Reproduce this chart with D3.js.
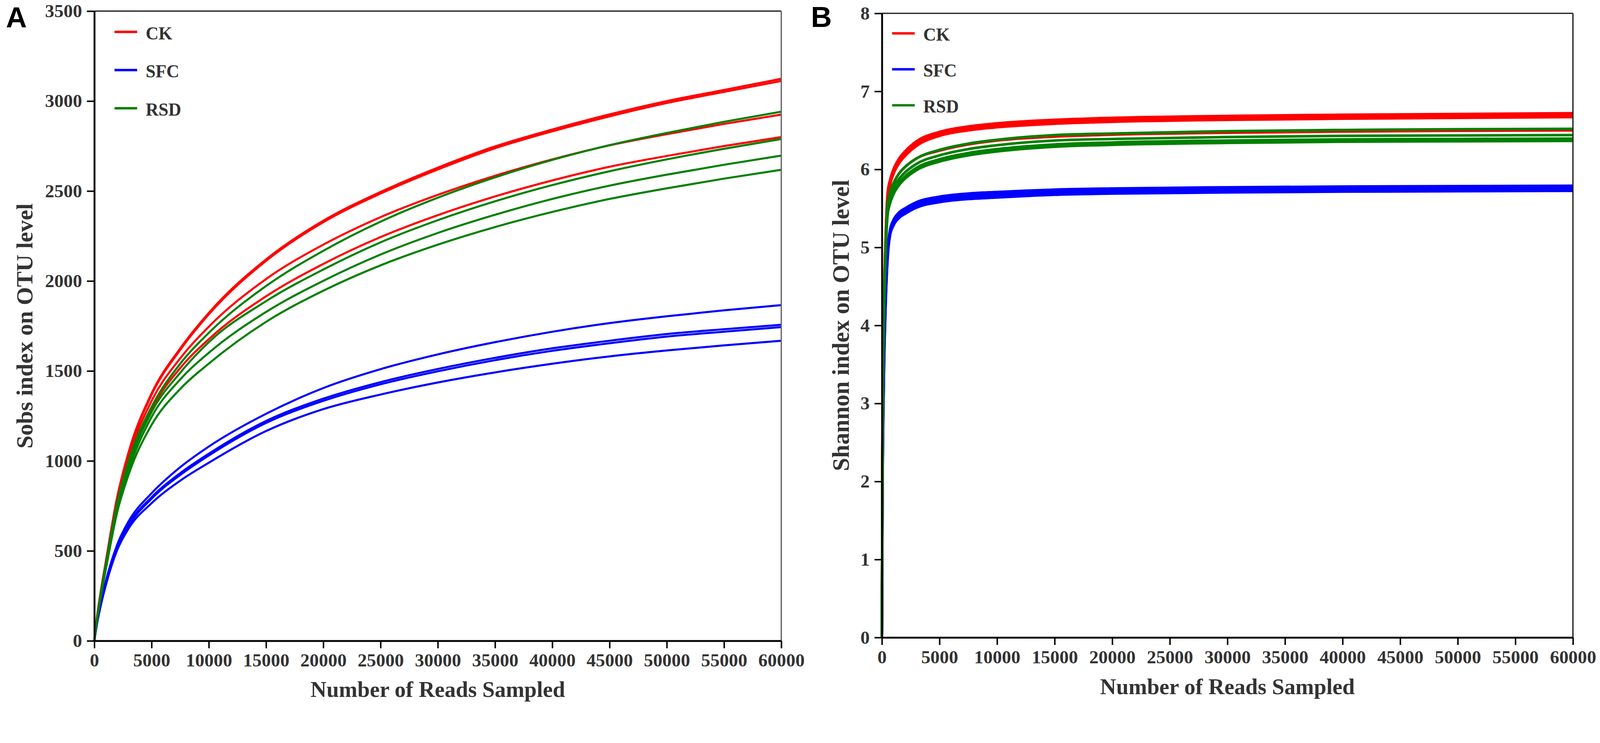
<!DOCTYPE html>
<html>
<head>
<meta charset="utf-8">
<script src="https://cdn.jsdelivr.net/npm/d3@7/dist/d3.min.js"></script>
<style>
  html, body { margin: 0; padding: 0; background: #fff; width: 100%; height: 100%; overflow: hidden; }
  svg { display: block; width: 100vw; height: 100vh; }
</style>
</head>
<body>
<script>
// ---------------- DATA ----------------
const groups = ["CK", "SFC", "RSD"];
const xTicks = [0, 5000, 10000, 15000, 20000, 25000, 30000, 35000, 40000, 45000, 50000, 55000, 60000];
const yTicksA = [0, 500, 1000, 1500, 2000, 2500, 3000, 3500];
const yTicksB = [0, 1, 2, 3, 4, 5, 6, 7, 8];

// Panel A: Sobs rarefaction
const readsA = [0, 250, 500, 1000, 2000, 3000, 5000, 7500, 10000, 15000, 20000, 25000, 30000, 35000, 40000, 45000, 50000, 55000, 60000];
const CK_A1  = [0, 140, 250, 440, 800, 1050, 1375, 1625, 1823, 2120, 2335, 2495, 2630, 2748, 2842, 2926, 3000, 3062, 3124];
const CK_A2  = [0, 138, 247, 436, 794, 1043, 1368, 1617, 1815, 2112, 2327, 2486, 2620, 2738, 2832, 2915, 2989, 3051, 3112];
const CK_A3  = [0, 135, 245, 430, 775, 1020, 1333, 1570, 1746, 2011, 2202, 2355, 2479, 2585, 2676, 2754, 2816, 2873, 2925];
const CK_A4  = [0, 130, 235, 420, 760, 990, 1289, 1516, 1677, 1915, 2095, 2244, 2366, 2470, 2559, 2635, 2695, 2750, 2800];
const SFC_A1 = [0, 110, 190, 330, 535, 665, 820, 965, 1080, 1262, 1405, 1510, 1592, 1660, 1718, 1766, 1804, 1837, 1866];
const SFC_A2 = [0, 106, 185, 322, 522, 648, 798, 932, 1040, 1222, 1346, 1438, 1511, 1573, 1626, 1668, 1705, 1732, 1757];
const SFC_A3 = [0, 104, 183, 318, 516, 640, 790, 922, 1030, 1211, 1334, 1426, 1498, 1560, 1612, 1654, 1691, 1718, 1744];
const SFC_A4 = [0, 100, 178, 308, 505, 625, 765, 890, 990, 1166, 1288, 1369, 1436, 1492, 1540, 1581, 1614, 1642, 1668];
const RSD_A1 = [0, 130, 240, 425, 765, 1000, 1300, 1540, 1712, 1972, 2168, 2330, 2463, 2576, 2673, 2755, 2823, 2885, 2941];
const RSD_A2 = [0, 128, 232, 415, 750, 975, 1272, 1490, 1660, 1888, 2064, 2215, 2338, 2443, 2533, 2610, 2676, 2735, 2789];
const RSD_A3 = [0, 125, 228, 405, 735, 950, 1244, 1453, 1601, 1828, 2001, 2147, 2267, 2368, 2456, 2530, 2591, 2646, 2697];
const RSD_A4 = [0, 120, 220, 395, 715, 925, 1200, 1400, 1541, 1773, 1946, 2087, 2202, 2300, 2384, 2456, 2515, 2569, 2618];

// Panel B: Shannon rarefaction
const readsB = [0, 50, 150, 300, 500, 700, 1000, 1500, 2000, 3000, 5000, 7500, 10000, 15000, 20000, 30000, 40000, 50000, 60000];
const CK_B1  = [0, 2.5, 4.0, 5.0, 5.70, 5.86, 6.00, 6.14, 6.23, 6.36, 6.48, 6.55, 6.59, 6.635, 6.66, 6.685, 6.70, 6.71, 6.72];
const CK_B2  = [0, 2.5, 4.0, 5.0, 5.67, 5.83, 5.97, 6.11, 6.20, 6.33, 6.455, 6.525, 6.565, 6.61, 6.635, 6.66, 6.675, 6.685, 6.695];
const CK_B3  = [0, 2.4, 3.9, 4.9, 5.64, 5.80, 5.94, 6.08, 6.17, 6.30, 6.43, 6.50, 6.54, 6.585, 6.61, 6.635, 6.65, 6.66, 6.67];
const CK_B4  = [0, 2.4, 3.9, 4.9, 5.55, 5.70, 5.82, 5.95, 6.03, 6.14, 6.24, 6.32, 6.37, 6.42, 6.445, 6.47, 6.485, 6.495, 6.50];
const SFC_B1 = [0, 1.9, 3.3, 4.3, 4.95, 5.22, 5.35, 5.45, 5.50, 5.58, 5.65, 5.69, 5.71, 5.74, 5.755, 5.77, 5.78, 5.785, 5.79];
const SFC_B2 = [0, 1.85, 3.25, 4.25, 4.92, 5.20, 5.33, 5.43, 5.48, 5.56, 5.63, 5.67, 5.69, 5.72, 5.735, 5.75, 5.76, 5.765, 5.77];
const SFC_B3 = [0, 1.8, 3.2, 4.2, 4.90, 5.18, 5.31, 5.41, 5.46, 5.54, 5.61, 5.65, 5.67, 5.70, 5.715, 5.73, 5.74, 5.745, 5.75];
const SFC_B4 = [0, 1.75, 3.15, 4.15, 4.87, 5.15, 5.28, 5.38, 5.43, 5.51, 5.58, 5.62, 5.64, 5.675, 5.69, 5.705, 5.715, 5.72, 5.725];
const RSD_B1 = [0, 2.4, 3.9, 4.9, 5.55, 5.70, 5.82, 5.95, 6.03, 6.14, 6.25, 6.33, 6.38, 6.44, 6.46, 6.49, 6.505, 6.515, 6.52];
const RSD_B2 = [0, 2.35, 3.85, 4.85, 5.50, 5.64, 5.76, 5.88, 5.96, 6.07, 6.18, 6.26, 6.31, 6.37, 6.39, 6.415, 6.43, 6.435, 6.44];
const RSD_B3 = [0, 2.3, 3.8, 4.8, 5.45, 5.59, 5.71, 5.83, 5.91, 6.02, 6.13, 6.21, 6.26, 6.32, 6.345, 6.37, 6.385, 6.39, 6.395];
const RSD_B4 = [0, 2.3, 3.8, 4.8, 5.42, 5.56, 5.68, 5.80, 5.88, 5.99, 6.10, 6.18, 6.23, 6.29, 6.315, 6.34, 6.355, 6.36, 6.365];

// ---------------- STYLE / LAYOUT ----------------
const W = 4317, H = 1902;
const colors = { CK: "#ff0000", SFC: "#0000ff", RSD: "#008000" };
const serif = "'Liberation Serif', 'Times New Roman', Times, serif";
const sans = "'Liberation Sans', Arial, Helvetica, sans-serif";
const textColor = "#333333";

const svg = d3.select("body").append("svg")
  .attr("viewBox", `0 0 ${W} ${H}`)
  .attr("preserveAspectRatio", "xMinYMin meet");
svg.append("rect").attr("width", W).attr("height", H).attr("fill", "#fff");

function drawPanel(p) {
  const x = d3.scaleLinear().domain([0, 60000]).range([p.x0, p.x1]);
  const y = d3.scaleLinear().domain(p.yDomain).range([p.y1, p.y0]);
  const g = svg.append("g");

  // curves
  const line = d3.line()
    .x((d) => x(d[0]))
    .y((d) => y(d[1]))
    .curve(d3.curveMonotoneX);
  p.series.forEach((s) => {
    g.append("path")
      .datum(p.reads.map((r, i) => [r, s.values[i]]))
      .attr("fill", "none")
      .attr("stroke", colors[s.group])
      .attr("stroke-width", p.lineWidth)
      .attr("stroke-linejoin", "round")
      .attr("d", line);
  });

  // frame: top and right
  g.append("line").attr("x1", p.x0).attr("x2", p.x1).attr("y1", p.y0).attr("y2", p.y0)
    .attr("stroke", "#222").attr("stroke-width", 3.5);
  g.append("line").attr("x1", p.x1).attr("x2", p.x1).attr("y1", p.y0).attr("y2", p.y1)
    .attr("stroke", p.rightColor).attr("stroke-width", 3.5);

  // axes
  const xAxis = d3.axisBottom(x).tickValues(xTicks).tickSize(20).tickPadding(14).tickSizeOuter(0)
    .tickFormat(d3.format("d"));
  const yAxis = d3.axisLeft(y).tickValues(p.yTicks).tickSize(20).tickPadding(13).tickSizeOuter(0)
    .tickFormat(d3.format("d"));

  const gx = g.append("g").attr("transform", `translate(0,${p.y1})`).call(xAxis);
  const gy = g.append("g").attr("transform", `translate(${p.x0},0)`).call(yAxis);
  [gx, gy].forEach((ax) => {
    ax.select(".domain").attr("stroke", "#000").attr("stroke-width", 5);
    ax.selectAll(".tick line").attr("stroke", "#000").attr("stroke-width", 4);
    ax.selectAll(".tick text")
      .attr("fill", textColor)
      .style("font-family", serif)
      .style("font-weight", "bold")
      .style("font-size", "50px");
  });

  // axis titles
  g.append("text")
    .attr("x", (p.x0 + p.x1) / 2).attr("y", p.xTitleY)
    .attr("text-anchor", "middle")
    .attr("fill", textColor)
    .style("font-family", serif).style("font-weight", "bold").style("font-size", "60px")
    .text("Number of Reads Sampled");
  g.append("text")
    .attr("transform", `translate(${p.yTitleX},${(p.y0 + p.y1) / 2}) rotate(-90)`)
    .attr("text-anchor", "middle")
    .attr("fill", textColor)
    .style("font-family", serif).style("font-weight", "bold").style("font-size", `${p.yTitleSize}px`)
    .text(p.yTitle);

  // panel letter
  g.append("text")
    .attr("x", p.letterX).attr("y", p.letterY)
    .attr("fill", "#000")
    .style("font-family", sans).style("font-weight", "bold").style("font-size", "78px")
    .text(p.letter);

  // legend
  groups.forEach((grp, i) => {
    const ly = p.legY + i * p.legStep;
    g.append("line")
      .attr("x1", p.legX).attr("x2", p.legX + 61)
      .attr("y1", ly).attr("y2", ly)
      .attr("stroke", colors[grp]).attr("stroke-width", 6.5);
    g.append("text")
      .attr("x", p.legX + 84).attr("y", ly + 20)
      .attr("fill", textColor)
      .style("font-family", serif).style("font-weight", "bold").style("font-size", "48px")
      .text(grp);
  });
}

drawPanel({
  x0: 254.5, x1: 2108, y0: 30, y1: 1729,
  yDomain: [0, 3500], yTicks: yTicksA,
  reads: readsA,
  series: [
    { group: "CK", values: CK_A1 }, { group: "CK", values: CK_A2 },
    { group: "CK", values: CK_A3 }, { group: "CK", values: CK_A4 },
    { group: "SFC", values: SFC_A1 }, { group: "SFC", values: SFC_A2 },
    { group: "SFC", values: SFC_A3 }, { group: "SFC", values: SFC_A4 },
    { group: "RSD", values: RSD_A1 }, { group: "RSD", values: RSD_A2 },
    { group: "RSD", values: RSD_A3 }, { group: "RSD", values: RSD_A4 }
  ],
  lineWidth: 5.5,
  rightColor: "#666",
  xTitleY: 1880,
  yTitle: "Sobs index on OTU level", yTitleX: 88, yTitleSize: 63,
  letter: "A", letterX: 16, letterY: 74,
  legX: 309, legY: 86, legStep: 103
});

drawPanel({
  x0: 2379.5, x1: 4244, y0: 36, y1: 1720,
  yDomain: [0, 8], yTicks: yTicksB,
  reads: readsB,
  series: [
    { group: "CK", values: CK_B1 }, { group: "CK", values: CK_B2 },
    { group: "CK", values: CK_B3 }, { group: "CK", values: CK_B4 },
    { group: "SFC", values: SFC_B1 }, { group: "SFC", values: SFC_B2 },
    { group: "SFC", values: SFC_B3 }, { group: "SFC", values: SFC_B4 },
    { group: "RSD", values: RSD_B1 }, { group: "RSD", values: RSD_B2 },
    { group: "RSD", values: RSD_B3 }, { group: "RSD", values: RSD_B4 }
  ],
  lineWidth: 7,
  rightColor: "#222",
  xTitleY: 1873,
  yTitle: "Shannon index on OTU level", yTitleX: 2290, yTitleSize: 64,
  letter: "B", letterX: 2188, letterY: 73,
  legX: 2407, legY: 90, legStep: 97
});
</script>
</body>
</html>
